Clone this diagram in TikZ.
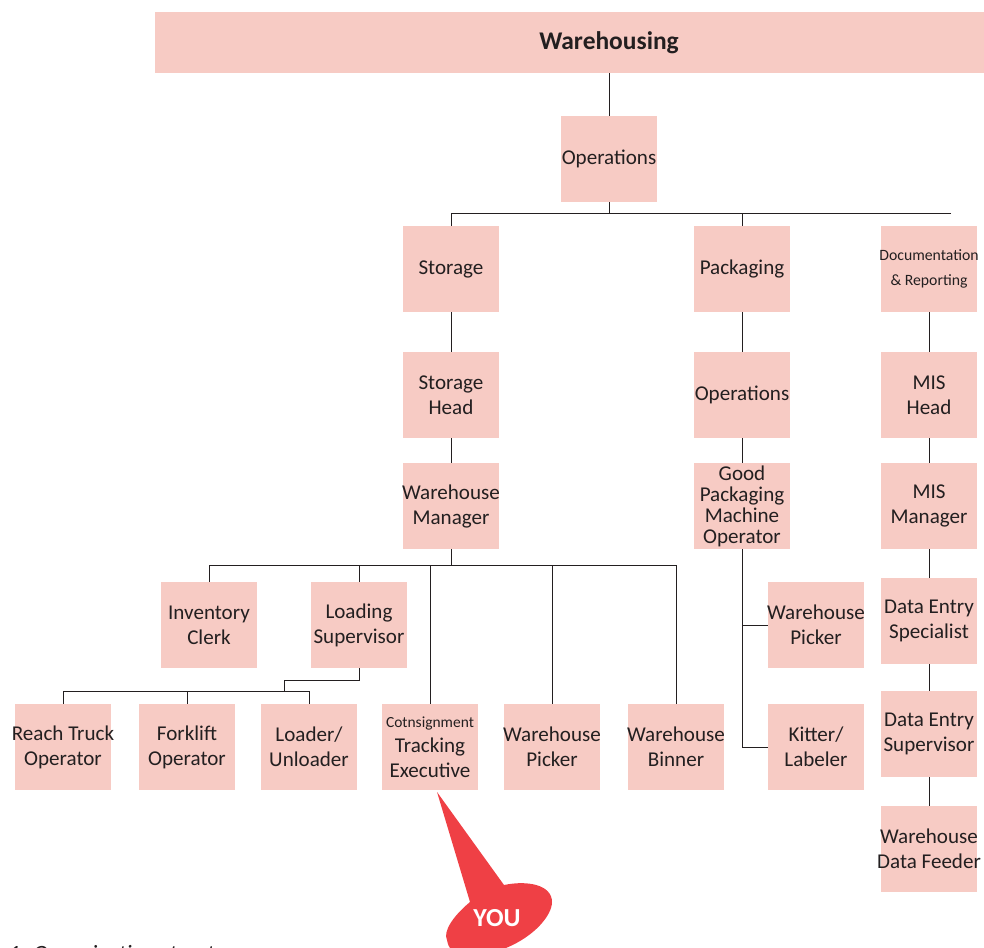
\documentclass[tikz,border=0pt]{standalone}
\usepackage{fontspec}
\setmainfont{Carlito}
\definecolor{boxpink}{HTML}{F7CBC4}
\definecolor{youred}{HTML}{EF4045}
\definecolor{inkc}{HTML}{231F20}
\tikzset{
  rolebox/.style={fill=boxpink,minimum width=72pt,minimum height=64.5pt,inner ysep=0pt,inner xsep=-8pt,align=center,font=\fontsize{15.8}{18.75}\selectfont,text=inkc},
  link/.style={draw=inkc,line width=0.75pt},
}
\newcommand{\rb}[4]{\node[rolebox,#4] (#1) at (#2) {#3};}
\begin{document}
\begin{tikzpicture}[x=0.75pt,y=-0.75pt]
\useasboundingbox (0,0) rectangle (984,948);
\node[fill=boxpink,minimum width=622pt,minimum height=45.75pt,inner sep=0pt,text=inkc] (top) at (569.5,42.5) {};
\node[font=\fontsize{19.1}{23}\selectfont\bfseries,text=inkc,inner sep=0pt] (toplabel) at (609,42.5) {Warehousing};
\rb{ops}{609,159}{Operations}{}
\rb{storage}{451,269}{Storage}{}
\rb{pack}{742,269}{Packaging}{}
\rb{doc}{929,269}{\fontsize{11.8}{18.75}\selectfont Documentation\\\fontsize{11.8}{18.75}\selectfont \& Reporting}{}
\rb{shead}{451,395}{Storage\\Head}{}
\rb{ops2}{742,395}{Operations}{}
\rb{mhead}{929,395}{MIS\\Head}{}
\rb{wman}{451,506}{Warehouse\\Manager}{}
\rb{good}{742,506}{Good\\Packaging\\Machine\\Operator}{font=\fontsize{15.8}{15.75}\selectfont,inner ysep=-6pt}
\rb{mman}{929,506}{MIS\\Manager}{}
\rb{inv}{209,625}{Inventory\\Clerk}{}
\rb{load}{359,625}{Loading\\Supervisor}{}
\rb{wp2}{816,625}{Warehouse\\Picker}{}
\rb{des}{929,621}{Data Entry\\Specialist}{}
\rb{reach}{63,747}{Reach Truck\\Operator}{}
\rb{fork}{187,747}{Forklift\\Operator}{}
\rb{loader}{309,747}{Loader/\\Unloader}{}
\rb{cons}{430,747}{{\fontsize{11.6}{18.75}\selectfont Cotnsignment}\\Tracking\\Executive}{}
\rb{wp}{552,747}{Warehouse\\Picker}{}
\rb{wb}{676,747}{Warehouse\\Binner}{}
\rb{kit}{816,747}{Kitter/\\Labeler}{}
\rb{dsup}{929,734}{Data Entry\\Supervisor}{}
\rb{feed}{929,849}{Warehouse\\Data Feeder}{}
\coordinate (r1) at (451,214);
\coordinate (r1e) at (951,214);
\coordinate (r2) at (209,565);
\coordinate (r2e) at (676,565);
\coordinate (r3) at (63,691);
\coordinate (r3e) at (309,691);
\coordinate (s1) at (359,680);
\coordinate (s2) at (284,680);
\coordinate (s3) at (284,691);
\draw[link] (top.south -| ops) -- (ops);
\draw[link] (ops.south) -- (ops.south |- r1);
\draw[link] (r1e) -- (r1) -- (storage.north);
\draw[link] (pack.north) -- (pack.north |- r1);
\draw[link] (storage) -- (shead) -- (wman);
\draw[link] (pack) -- (ops2) -- (good);
\draw[link] (doc) -- (mhead) -- (mman) -- (des) -- (dsup) -- (feed);
\draw[link] (wman.south) -- (wman.south |- r2);
\draw[link] (inv.north) -- (r2) -- (r2e) -- (wb.north);
\draw[link] (load.north) -- (load.north |- r2);
\draw[link] (cons.north) -- (cons.north |- r2);
\draw[link] (wp.north) -- (wp.north |- r2);
\draw[link] (load.south) -- (s1) -- (s2) -- (s3);
\draw[link] (reach.north) -- (r3) -- (r3e) -- (loader.north);
\draw[link] (fork.north) -- (fork.north |- r3);
\draw[link] (good.south) -- (good.south |- kit) -- (kit.west);
\draw[link] (good.south |- wp2) -- (wp2.west);
\fill[youred] (437,792) -- (470,902)
  .. controls (452,917) and (443,932) .. (447,940)
  .. controls (448,945) and (449,947) .. (450,948)
  -- (506,948)
  .. controls (535,936) and (552,915) .. (552,902)
  .. controls (552,885) and (528,880) .. (504,885) -- cycle;
\node[font=\fontsize{19.5}{22}\selectfont\bfseries,text=white,inner sep=0pt] (you) at (497,918) {YOU};
\node[anchor=base west,inner sep=0pt,font=\fontsize{17.5}{20}\selectfont\itshape,text=inkc] (cap) at (8,961) {1. Organization structure};
\end{tikzpicture}
\end{document}
